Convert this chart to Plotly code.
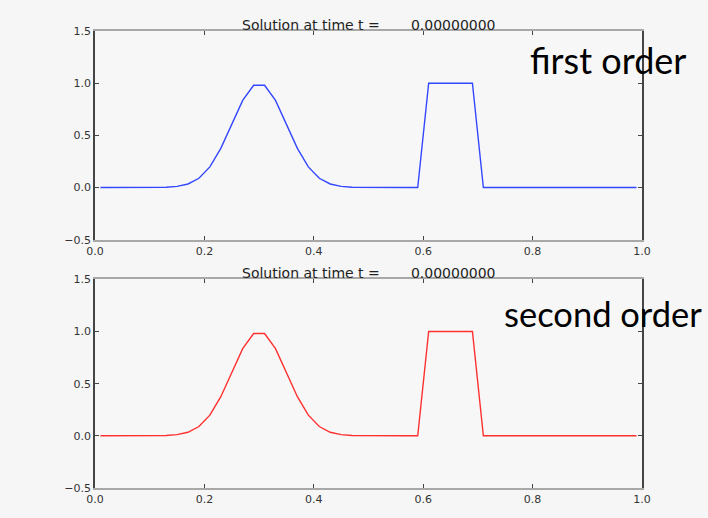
import plotly.graph_objects as go

# cell centres of the 50-cell grid
x_centers = [0.01, 0.03, 0.05, 0.07, 0.09, 0.11, 0.13, 0.15, 0.17, 0.19,
             0.21, 0.23, 0.25, 0.27, 0.29, 0.31, 0.33, 0.35, 0.37, 0.39,
             0.41, 0.43, 0.45, 0.47, 0.49, 0.51, 0.53, 0.55, 0.57, 0.59,
             0.61, 0.63, 0.65, 0.67, 0.69, 0.71, 0.73, 0.75, 0.77, 0.79,
             0.81, 0.83, 0.85, 0.87, 0.89, 0.91, 0.93, 0.95, 0.97, 0.99]

q_first_order = [0, 0, 0, 0, 0, 0.001, 0.003, 0.011, 0.034, 0.089,
                 0.198, 0.375, 0.607, 0.835, 0.980, 0.980, 0.835, 0.607, 0.375, 0.198,
                 0.089, 0.034, 0.011, 0.003, 0.001, 0, 0, 0, 0, 0,
                 1, 1, 1, 1, 1, 0, 0, 0, 0, 0,
                 0, 0, 0, 0, 0, 0, 0, 0, 0, 0]

q_second_order = [0, 0, 0, 0, 0, 0.001, 0.003, 0.011, 0.034, 0.089,
                  0.198, 0.375, 0.607, 0.835, 0.980, 0.980, 0.835, 0.607, 0.375, 0.198,
                  0.089, 0.034, 0.011, 0.003, 0.001, 0, 0, 0, 0, 0,
                  1, 1, 1, 1, 1, 0, 0, 0, 0, 0,
                  0, 0, 0, 0, 0, 0, 0, 0, 0, 0]

x_tick_vals = [0.0, 0.2, 0.4, 0.6, 0.8, 1.0]
x_tick_text = ["0.0", "0.2", "0.4", "0.6", "0.8", "1.0"]
y_tick_vals = [-0.5, 0.0, 0.5, 1.0, 1.5]
y_tick_text = ["\u22120.5", "0.0", "0.5", "1.0", "1.5"]

title_text = "Solution at time t =\u00a0\u00a0\u00a0\u00a0\u00a0\u00a0\u00a00.00000000"
labels = ["first order", "second order"]

W, H = 708, 518
L, R, T, B = 95, 66, 31, 25
ph = H - T - B

def py(pix):
    return (H - B - pix) / ph

def px(pix):
    return (pix - L) / (W - L - R)

fig = go.Figure()
fig.add_trace(go.Scatter(x=x_centers, y=q_first_order, mode="lines",
                         line=dict(color="#3347ff", width=1.4),
                         xaxis="x", yaxis="y", showlegend=False))
fig.add_trace(go.Scatter(x=x_centers, y=q_second_order, mode="lines",
                         line=dict(color="#ff3030", width=1.4),
                         xaxis="x2", yaxis="y2", showlegend=False))

tickfont = dict(family="DejaVu Sans", size=11, color="#333333")
xcommon = dict(range=[0, 1], tickvals=x_tick_vals, ticktext=x_tick_text,
               ticks="inside", ticklen=4, tickcolor="#444444", tickwidth=1,
               showline=True, linecolor="#a8a8a8", linewidth=1.5, mirror="ticks",
               showgrid=False, zeroline=False, tickfont=tickfont)
ycommon = dict(range=[-0.5, 1.5], tickvals=y_tick_vals, ticktext=y_tick_text,
               ticks="inside", ticklen=4, tickcolor="#444444", tickwidth=1,
               showline=True, linecolor="#444444", linewidth=1.5, mirror="ticks",
               showgrid=False, zeroline=False, tickfont=tickfont)

top_dom = [py(242), 1.0]
bot_dom = [0.0, py(282)]

fig.update_layout(
    width=W, height=H,
    margin=dict(l=L, r=R, t=T, b=B),
    paper_bgcolor="#f6f6f6", plot_bgcolor="#f7f7f7",
    xaxis=dict(domain=[0, 1], anchor="y", **xcommon),
    yaxis=dict(domain=top_dom, anchor="x", **ycommon),
    xaxis2=dict(domain=[0, 1], anchor="y2", **xcommon),
    yaxis2=dict(domain=bot_dom, anchor="x2", **ycommon),
    annotations=[
        dict(text=title_text, x=0.5, y=py(25), xref="paper", yref="paper",
             xanchor="center", yanchor="middle", showarrow=False,
             font=dict(family="DejaVu Sans", size=14, color="#222222")),
        dict(text=title_text, x=0.5, y=py(276), xref="paper", yref="paper",
             xanchor="center", yanchor="middle", showarrow=False,
             font=dict(family="DejaVu Sans", size=14, color="#222222")),
        dict(text=labels[0], x=px(528), y=py(60), xref="paper", yref="paper",
             xanchor="left", yanchor="middle", showarrow=False,
             font=dict(family="Lato", size=36, color="#000000")),
        dict(text=labels[1], x=px(502), y=py(317), xref="paper", yref="paper",
             xanchor="left", yanchor="middle", showarrow=False,
             font=dict(family="Lato", size=34.5, color="#000000")),
    ],
)

fig.write_html(
    "out.html",
    config={"displayModeBar": False},
    post_script="document.body.style.margin='0';"
                "document.body.style.background='#f6f6f6';",
)
